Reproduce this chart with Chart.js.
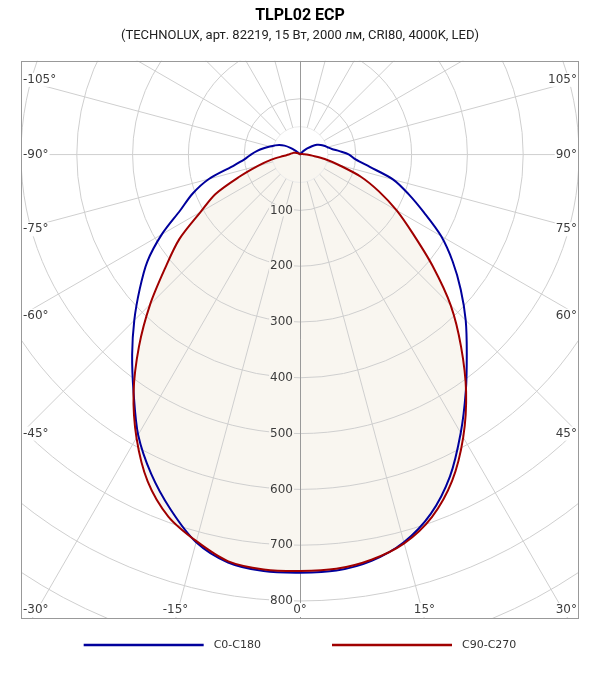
<!DOCTYPE html>
<html>
<head>
<meta charset="utf-8">
<title>TLPL02 ECP</title>
<script src="https://cdn.jsdelivr.net/npm/chart.js@4.4.1/dist/chart.umd.min.js"></script>
<style>
  html, body { margin: 0; padding: 0; background: #fff; }
</style>
</head>
<body>
<canvas id="kssChart" width="600" height="680"></canvas>
<script>
// углы от надира, градусы (минус - влево)
const angles = [-180, -175, -170, -165, -160, -155, -150, -145, -140, -135, -130, -125, -120, -115, -110, -105,
  -100, -95, -90, -85, -80, -75, -70, -65, -60, -55, -50, -45, -40, -35, -30, -25, -20, -15, -10, -5,
  0, 5, 10, 15, 20, 25, 30, 35, 40, 45, 50, 55, 60, 65, 70, 75, 80, 85, 90, 95,
  100, 105, 110, 115, 120, 125, 130, 135, 140, 145, 150, 155, 160, 165, 170, 175, 180];

// сила света, кд/клм
const c0c180 = [0, 0, 0, 0, 0, 0, 1, 2, 3, 5, 11, 21, 32, 41, 48, 56,
  66, 77, 88, 100, 124, 169, 205, 237, 286, 334, 375, 420, 468, 520, 580, 631, 677, 719, 742, 749,
  749, 748, 739, 719, 685, 636, 576, 518, 465, 420, 376, 334, 292, 245, 207, 173, 127, 100, 88, 71,
  58, 51, 46, 41, 35, 26, 17, 10, 5, 2, 1, 0, 0, 0, 0, 0, 0];

const c90c270 = [0, 0, 0, 0, 0, 0, 1, 1, 2, 2, 3, 4, 5, 7, 9, 12,
  14, 17, 20, 30, 52, 78, 115, 167, 206, 264, 315, 380, 449, 520, 586, 646, 690, 717, 740, 746,
  746, 745, 737, 721, 691, 645, 585, 519, 449, 382, 310, 247, 200, 156, 116, 72, 45, 22, 12, 8,
  5, 4, 3, 2, 1, 1, 0, 0, 0, 0, 0, 0, 0, 0, 0, 0, 0];

// сетка
const radialTicks = [100, 200, 300, 400, 500, 600, 700, 800];
const gridCircles = [50, 100, 200, 300, 400, 500, 600, 700, 800, 900, 1000];
const rayAngles = [-165, -150, -135, -120, -105, -90, -75, -60, -45, -30, -15, 15, 30, 45, 60, 75, 90, 105, 120, 135, 150, 165];
const angleTicks = [-105, -90, -75, -60, -45, -30, -15, 0, 15, 30, 45, 60, 75, 90, 105];

const FILL = '#f9f6f0';
const LABEL_FONT = '12px "DejaVu Sans", sans-serif';
const LEGEND_FONT = '11px "DejaVu Sans", sans-serif';

function toXY(vals) {
  return angles.map(function (a, i) {
    const t = a * Math.PI / 180;
    return { x: vals[i] * Math.sin(t), y: -vals[i] * Math.cos(t) };
  });
}

// полярная сетка рисуется через шкалы x/y
const polarGrid = {
  id: 'polarGrid',
  beforeDatasetsDraw(chart) {
    const { ctx, chartArea: area, scales } = chart;
    const cx = scales.x.getPixelForValue(0);
    const cy = scales.y.getPixelForValue(0);
    const ppu = scales.x.getPixelForValue(1) - cx;
    ctx.save();
    ctx.beginPath();
    ctx.rect(area.left, area.top, area.right - area.left, area.bottom - area.top);
    ctx.clip();
    ctx.lineWidth = 1;
    gridCircles.forEach(function (r) {
      ctx.strokeStyle = r < 100 ? '#ebebeb' : '#cfcfcf';
      ctx.beginPath();
      ctx.arc(cx, cy, r * ppu, 0, Math.PI * 2);
      ctx.stroke();
    });
    ctx.strokeStyle = '#cfcfcf';
    rayAngles.forEach(function (a) {
      const t = a * Math.PI / 180;
      const r0 = 50 * ppu, r1 = 1200 * ppu;
      ctx.beginPath();
      ctx.moveTo(cx + r0 * Math.sin(t), cy + r0 * Math.cos(t));
      ctx.lineTo(cx + r1 * Math.sin(t), cy + r1 * Math.cos(t));
      ctx.stroke();
    });
    ctx.strokeStyle = '#999';
    ctx.beginPath();
    ctx.moveTo(Math.round(cx) + 0.5, area.top);
    ctx.lineTo(Math.round(cx) + 0.5, area.bottom);
    ctx.stroke();
    ctx.restore();
  }
};

// подписи шкал и рамка
const polarLabels = {
  id: 'polarLabels',
  afterDatasetsDraw(chart) {
    const { ctx, chartArea: area, scales } = chart;
    const cx = scales.x.getPixelForValue(0);
    const cy = scales.y.getPixelForValue(0);
    const ppu = scales.x.getPixelForValue(1) - cx;
    ctx.save();
    ctx.font = LABEL_FONT;
    ctx.textBaseline = 'middle';
    ctx.textAlign = 'left';

    radialTicks.forEach(function (v) {
      const txt = String(v);
      const w = ctx.measureText(txt).width;
      const tx = cx - 7 - w;
      const ty = cy + v * ppu;
      ctx.fillStyle = v < c90c270[angles.indexOf(0)] ? FILL : '#fff';
      ctx.fillRect(tx - 1, ty - 6, w + 2, 12);
      ctx.fillStyle = '#3c3c3c';
      ctx.fillText(txt, tx, ty);
    });

    angleTicks.forEach(function (a) {
      const t = a * Math.PI / 180, sx = Math.sin(t), sy = Math.cos(t);
      let k = Infinity;
      if (sx > 1e-9) k = Math.min(k, (area.right - cx) / sx);
      if (sx < -1e-9) k = Math.min(k, (area.left - cx) / sx);
      if (sy > 1e-9) k = Math.min(k, (area.bottom - cy) / sy);
      if (sy < -1e-9) k = Math.min(k, (area.top - cy) / sy);
      const px = cx + k * sx, py = cy + k * sy;
      const txt = a + '°';
      const w = ctx.measureText(txt).width;
      let tx, ty;
      if (Math.abs(py - area.bottom) < 0.5) {
        tx = Math.min(Math.max(px - w / 2, area.left + 2), area.right - 2 - w);
        ty = area.bottom - 9;
      } else if (sx < 0) {
        tx = area.left + 2;
        ty = py;
      } else {
        tx = area.right - 2 - w;
        ty = py;
      }
      ctx.fillStyle = '#fff';
      ctx.fillRect(tx - 1, ty - 7, w + 2, 14);
      ctx.fillStyle = '#3c3c3c';
      ctx.fillText(txt, tx, ty);
    });

    ctx.strokeStyle = '#999';
    ctx.lineWidth = 1;
    ctx.strokeRect(Math.round(area.left) + 0.5, Math.round(area.top) + 0.5,
      Math.round(area.right - area.left) - 1, Math.round(area.bottom - area.top) - 1);
    ctx.restore();
  }
};

// легенда: длинные линии под графиком
const lineLegend = {
  id: 'lineLegend',
  afterDraw(chart) {
    const { ctx, chartArea: area, width } = chart;
    const lineLen = 120, gapText = 10, gapItem = 71;
    ctx.save();
    ctx.font = LEGEND_FONT;
    const items = chart.data.datasets.map(function (ds) {
      return { text: ds.label, color: ds.borderColor, w: ctx.measureText(ds.label).width };
    });
    let total = gapItem * (items.length - 1);
    items.forEach(function (it) { total += lineLen + gapText + it.w; });
    let x = (width - total) / 2;
    const y = area.bottom + 26;
    items.forEach(function (it) {
      ctx.strokeStyle = it.color;
      ctx.lineWidth = 2.5;
      ctx.beginPath();
      ctx.moveTo(x, y);
      ctx.lineTo(x + lineLen, y);
      ctx.stroke();
      x += lineLen + gapText;
      ctx.fillStyle = '#333';
      ctx.textAlign = 'left';
      ctx.textBaseline = 'middle';
      ctx.fillText(it.text, x, y);
      x += it.w + gapItem;
    });
    ctx.restore();
  }
};

const ctx = document.getElementById('kssChart').getContext('2d');
new Chart(ctx, {
  type: 'scatter',
  data: {
    datasets: [{
      label: 'C0-C180',
      data: toXY(c0c180),
      showLine: true,
      borderColor: '#00009c',
      borderWidth: 2,
      pointRadius: 0,
      tension: 0.3,
      fill: false,
      order: 1
    }, {
      label: 'C90-C270',
      data: toXY(c90c270),
      showLine: true,
      borderColor: '#a00000',
      backgroundColor: FILL,
      borderWidth: 2,
      pointRadius: 0,
      tension: 0.3,
      fill: 'shape',
      order: 0
    }]
  },
  options: {
    responsive: false,
    animation: false,
    layout: { padding: { left: 21, right: 21, top: 0, bottom: 61 } },
    scales: {
      x: { type: 'linear', min: -500, max: 500, display: false },
      y: { type: 'linear', min: -832, max: 168, display: false }
    },
    plugins: {
      legend: { display: false },
      tooltip: { enabled: false },
      filler: { drawTime: 'beforeDraw' },
      title: {
        display: true,
        text: 'TLPL02 ECP',
        color: '#000',
        font: { family: 'Roboto', size: 16, weight: 'bold' },
        padding: { top: 6, bottom: 3 }
      },
      subtitle: {
        display: true,
        text: '(TECHNOLUX, арт. 82219, 15 Вт, 2000 лм, CRI80, 4000K, LED)',
        color: '#222',
        font: { family: 'Roboto', size: 13 },
        padding: { top: 0, bottom: 17 }
      }
    }
  },
  plugins: [polarGrid, polarLabels, lineLegend]
});
</script>
</body>
</html>
